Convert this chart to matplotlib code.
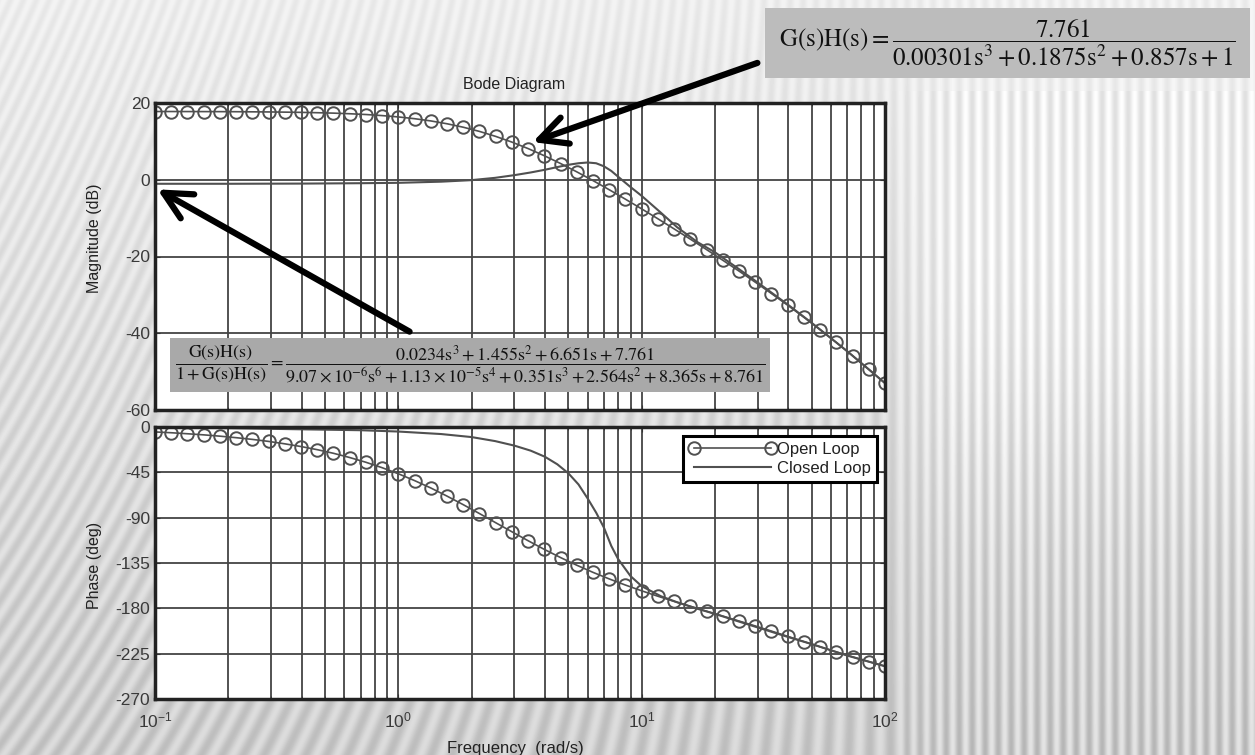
import numpy as np
import matplotlib
matplotlib.use('Agg')
import matplotlib.pyplot as plt
from matplotlib.patches import FancyArrowPatch, Rectangle
from matplotlib.ticker import LogLocator, FixedLocator, NullFormatter

plt.rcParams['font.family'] = ['Liberation Sans', 'DejaVu Sans']
plt.rcParams['axes.unicode_minus'] = False

# open loop G(s)H(s), read at 15 points per decade
w_open = [0.1, 0.1166, 0.1359, 0.1585, 0.1848, 0.2154, 0.2512, 0.2929, 0.3415, 0.3981,
          0.4642, 0.5412, 0.6310, 0.7356, 0.8577, 1.0, 1.166, 1.359, 1.585, 1.848,
          2.154, 2.512, 2.929, 3.415, 3.981, 4.642, 5.412, 6.310, 7.356, 8.577,
          10.0, 11.66, 13.59, 15.85, 18.48, 21.54, 25.12, 29.29, 34.15, 39.81,
          46.42, 54.12, 63.10, 73.56, 85.77, 100.0]
mag_open = [17.78, 17.78, 17.77, 17.76, 17.75, 17.73, 17.70, 17.67, 17.62, 17.56,
            17.47, 17.36, 17.20, 17.00, 16.72, 16.37, 15.91, 15.33, 14.59, 13.69,
            12.60, 11.30, 9.81, 8.12, 6.26, 4.23, 2.06, -0.22, -2.60, -5.07,
            -7.59, -10.17, -12.80, -15.48, -18.20, -20.97, -23.80, -26.69, -29.65, -32.69,
            -35.83, -39.07, -42.41, -45.85, -49.39, -53.03]
phase_open = [-4.9, -5.7, -6.7, -7.8, -9.1, -10.6, -12.3, -14.3, -16.7, -19.4,
              -22.5, -26.1, -30.3, -35.0, -40.4, -46.4, -53.2, -60.5, -68.6, -77.1,
              -85.9, -95.0, -104.0, -112.9, -121.5, -129.6, -137.2, -144.3, -150.8, -156.9,
              -162.6, -168.0, -173.1, -178.0, -182.9, -187.7, -192.6, -197.5, -202.6, -207.8,
              -213.0, -218.2, -223.3, -228.2, -232.9, -237.4]

# closed loop
w_closed = [0.1, 0.2, 0.4, 0.7, 1.0, 1.5, 2.0, 2.5, 3.0, 3.5, 4.0, 4.5, 5.0, 5.5, 6.0, 6.5,
            7.0, 7.5, 8.0, 9.0, 10.0, 12.0, 14.0, 17.0, 20.0, 25.0, 30.0, 40.0, 50.0, 70.0, 100.0]
mag_closed = [-1.05, -1.05, -1.0, -0.9, -0.8, -0.5, -0.1, 0.5, 1.2, 1.9, 2.6, 3.3, 3.9, 4.3, 4.5, 4.3,
              3.5, 2.3, 0.8, -1.9, -4.2, -8.6, -12.4, -16.3, -18.9, -23.2, -26.8, -32.6, -37.3, -44.7, -53.0]
phase_closed = [-0.6, -1.1, -2.3, -3.2, -4.5, -7.0, -10.0, -14.0, -18.5, -23.5, -29.5, -37.0, -46.0, -57.0, -71.0, -85.0,
                -100.0, -118.0, -131.0, -148.0, -158.0, -168.0, -174.0, -180.5, -185.5, -193.0, -199.0, -208.5, -215.5, -226.9, -237.5]

mag_ticks = [20, 0, -20, -40, -60]
phase_ticks = [0, -45, -90, -135, -180, -225, -270]

eq_open = r'$\mathrm{G(s)H(s)}=\dfrac{7.761}{0.00301\mathrm{s}^3+0.1875\mathrm{s}^2+0.857\mathrm{s}+1}$'
eq_closed = (r'$\dfrac{\mathrm{G(s)H(s)}}{1+\mathrm{G(s)H(s)}}='
             r'\dfrac{0.0234\mathrm{s}^3+1.455\mathrm{s}^2+6.651\mathrm{s}+7.761}'
             r'{9.07\times10^{-6}\mathrm{s}^6+1.13\times10^{-5}\mathrm{s}^4+0.351\mathrm{s}^3'
             r'+2.564\mathrm{s}^2+8.365\mathrm{s}+8.761}$')

W, H = 1255, 755
fig = plt.figure(figsize=(W / 100, H / 100), dpi=100)

def fx(px):
    return px / W

def fy(py):
    return 1 - py / H

# striped slide background
yy, xx = np.mgrid[0:H, 0:W].astype(float)
right = np.clip((xx - 880) / 80, 0, 1)
tilt = 0.45 * np.clip(1 - xx / 900, 0, 1)
stripes = np.sin(2 * np.pi * (xx + tilt * yy) / 13.0)
amp = 0.025 + 0.035 * (yy / H) + 0.03 * right * (yy > 90)
base = 0.93 - 0.13 * (yy / H) + 0.05 * right * np.exp(-((yy - 300) / 220) ** 2)
bg = np.clip(base + amp * stripes, 0, 1)
axbg = fig.add_axes([0, 0, 1, 1], zorder=-5)
axbg.imshow(bg, cmap='gray', vmin=0, vmax=1, aspect='auto', extent=[0, 1, 0, 1])
axbg.axis('off')

ax1 = fig.add_axes([fx(155), fy(410), fx(885 - 155), (410 - 103) / H])
ax2 = fig.add_axes([fx(155), fy(699), fx(885 - 155), (699 - 427) / H])

line_col = '#505050'
ax1.semilogx(w_open, mag_open, '-o', color=line_col, mfc='none', ms=9, mew=1.4, lw=1.2,
             label='Open Loop')
ax1.semilogx(w_closed, mag_closed, '-', color=line_col, lw=1.5, label='Closed Loop')
ax2.semilogx(w_open, phase_open, '-o', color=line_col, mfc='none', ms=9, mew=1.4, lw=1.2,
             label='Open Loop')
ax2.semilogx(w_closed, phase_closed, '-', color=line_col, lw=1.5, label='Closed Loop')

ax1.set_ylim(-60, 20)
ax2.set_ylim(-270, 0)
ax1.yaxis.set_major_locator(FixedLocator(mag_ticks))
ax2.yaxis.set_major_locator(FixedLocator(phase_ticks))

for ax in (ax1, ax2):
    ax.set_xlim(0.1, 100)
    ax.set_facecolor('white')
    ax.xaxis.set_major_locator(LogLocator(base=10, numticks=10))
    ax.xaxis.set_minor_locator(LogLocator(base=10, subs=np.arange(2, 10), numticks=10))
    ax.xaxis.set_minor_formatter(NullFormatter())
    ax.grid(True, which='major', color='#444444', lw=1.3)
    ax.grid(True, which='minor', axis='x', color='#444444', lw=1.3)
    ax.tick_params(which='both', direction='in', top=True, right=True,
                   labelsize=12.5, labelcolor='#3a3a3a', color='#333333')
    for s in ax.spines.values():
        s.set_linewidth(2.5)
        s.set_color('#222222')

ax1.tick_params(axis='x', which='both', labelbottom=False)
ax2.tick_params(axis='x', which='major', pad=8)

fig.text(fx(514), fy(84), 'Bode Diagram', ha='center', va='center', fontsize=11.5, color='#222222')
fig.text(fx(95), fy(238), 'Magnitude (dB)', rotation=90, ha='center', va='center',
         fontsize=11.5, color='#222222')
fig.text(fx(95), fy(565), 'Phase (deg)', rotation=90, ha='center', va='center',
         fontsize=11.5, color='#222222')
fig.text(fx(515), fy(741), 'Frequency  (rad/s)', ha='center', va='top', fontsize=12, color='#222222')

leg = ax2.legend(loc='upper right', bbox_to_anchor=(fx(877), fy(436)), bbox_transform=fig.transFigure,
                 numpoints=2, handlelength=5.2, fancybox=False, framealpha=1, edgecolor='black',
                 fontsize=12, borderaxespad=0, handletextpad=0.1, labelspacing=0.25,
                 borderpad=0.35)
leg.get_frame().set_linewidth(2.2)
for t in leg.get_texts():
    t.set_color('#222222')

# equation boxes
fig.add_artist(Rectangle((fx(765), fy(78)), fx(485), (78 - 8) / H, transform=fig.transFigure,
                         facecolor='#bcbcbc', edgecolor='none', zorder=3))
fig.text(fx(1007), fy(43), eq_open, ha='center', va='center', fontsize=18,
         math_fontfamily='stix', color='#111111', zorder=4)
fig.add_artist(Rectangle((fx(170), fy(392)), fx(600), (392 - 338) / H, transform=fig.transFigure,
                         facecolor='#a9a9a9', edgecolor='none', zorder=3))
fig.text(fx(470), fy(365), eq_closed, ha='center', va='center', fontsize=13,
         math_fontfamily='stix', color='#111111', zorder=4)

# arrows pointing at the two curves
for (xa, ya), (xb, yb) in [((760, 62), (530, 143)), ((412, 333), (155, 188))]:
    fig.add_artist(FancyArrowPatch((fx(xa), fy(ya)), (fx(xb), fy(yb)), transform=fig.transFigure,
                                   arrowstyle='->,head_length=0.9,head_width=0.45', mutation_scale=22,
                                   lw=4.5, color='black', zorder=5))

fig.savefig('out.png', dpi=100)
